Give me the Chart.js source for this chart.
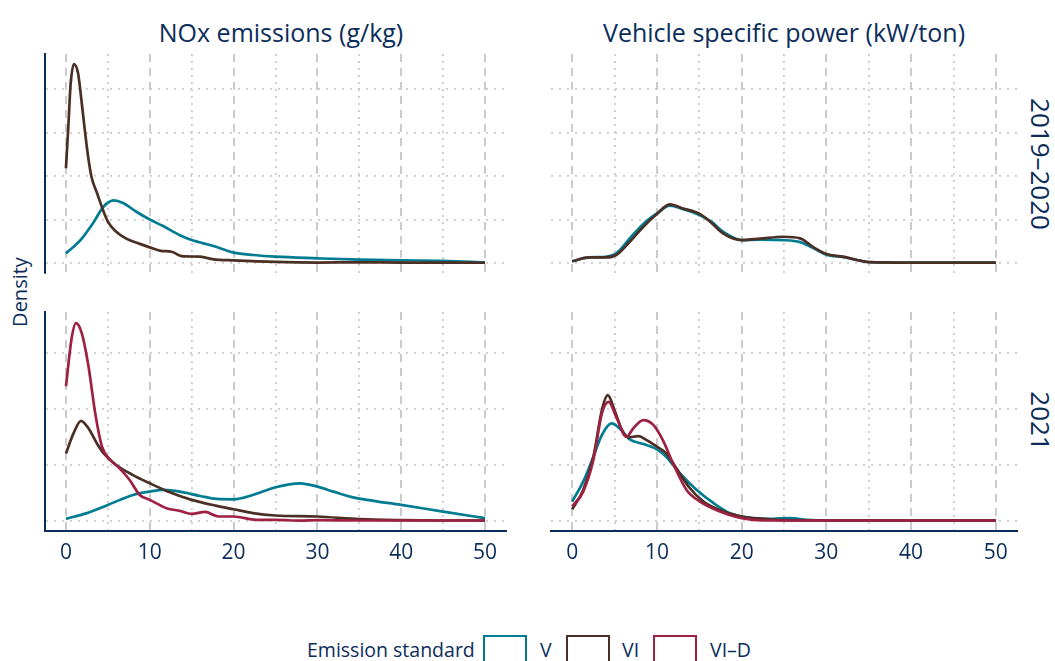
<!DOCTYPE html>
<html>
<head>
<meta charset="utf-8">
<script src="https://cdn.jsdelivr.net/npm/chart.js@4.4.1/dist/chart.umd.min.js"></script>
<style>
  body { margin: 0; width: 1055px; height: 661px; overflow: hidden; position: relative; background: #fff;
         font-family: 'Open Sans', sans-serif; color: #0b2d5b; }
  canvas { position: absolute; }
  .title { position: absolute; top: 32px; font-size: 25px; white-space: nowrap; transform: translate(-50%, -50%); }
  .strip { position: absolute; font-size: 26px; white-space: nowrap; transform: translate(-50%, -50%) rotate(90deg); }
  .ylab { position: absolute; left: 19px; top: 292px; font-size: 20px; white-space: nowrap; transform: translate(-50%, -50%) rotate(-90deg); }
  .legend { position: absolute; top: 637px; font-size: 19.5px; line-height: 26px; white-space: nowrap; }
  .key { position: absolute; top: 635px; width: 40px; height: 40px; border: 2.5px solid; }
</style>
</head>
<body>
<div class="title" style="left:281px">NOx emissions (g/kg)</div>
<div class="title" style="left:784px">Vehicle specific power (kW/ton)</div>
<div class="ylab">Density</div>
<div class="strip" style="left:1041px; top:164px">2019–2020</div>
<div class="strip" style="left:1041px; top:421px">2021</div>

<canvas id="noxTop" width="482" height="240" style="left:35px; top:44px"></canvas>
<canvas id="vspTop" width="486" height="240" style="left:541px; top:44px"></canvas>
<canvas id="noxBot" width="482" height="280" style="left:35px; top:302px"></canvas>
<canvas id="vspBot" width="486" height="280" style="left:541px; top:302px"></canvas>

<div class="legend" style="left:307px">Emission standard</div>
<div class="key" style="left:483px; border-color:#007c92"></div>
<div class="legend" style="left:540px">V</div>
<div class="key" style="left:566px; border-color:#4b2f25"></div>
<div class="legend" style="left:622px">VI</div>
<div class="key" style="left:653px; border-color:#9e2143"></div>
<div class="legend" style="left:710px">VI–D</div>

<script>
// --------------------------------------------------- DATA
const xTicks = [0, 5, 10, 15, 20, 25, 30, 35, 40, 45, 50]
const yTicksTop = [0, 0.05, 0.1, 0.15, 0.2]
const yTicksBot = [0, 0.05, 0.1, 0.15]

// NOx, 2019-2020
const noxTopVx = [0, 1.7, 3.3, 4.5, 5.7, 6.8, 8.4, 10, 11.6, 13.6, 15, 17.6, 20, 22.4, 25, 30, 35, 40, 45, 50]
const noxTopV = [0.011, 0.026, 0.047, 0.065, 0.072, 0.069, 0.059, 0.050, 0.0425, 0.032, 0.0264, 0.0195, 0.012, 0.0092, 0.0073, 0.0054, 0.0038, 0.003, 0.0026, 0.0008]
const noxTopVIx = [0, 0.3, 0.55, 0.95, 1.45, 1.85, 2.25, 2.65, 3.05, 3.65, 5, 6, 7.2, 8.8, 10, 11.3, 12.6, 13.8, 16, 17.6, 20, 25, 30, 35, 40, 45, 50]
const noxTopVI = [0.109, 0.16, 0.205, 0.229, 0.218, 0.187, 0.153, 0.122, 0.099, 0.082, 0.0475, 0.036, 0.028, 0.022, 0.018, 0.014, 0.013, 0.008, 0.0073, 0.0042, 0.003, 0.0012, 0.0005, 0.0008, 0.0005, 0.0005, 0.0003]

// VSP, 2019-2020
const vspTopX = [0, 2, 4, 5.2, 6.8, 8.4, 10, 11.5, 13.1, 15.1, 16.5, 17.8, 20, 22.2, 24.9, 26.9, 28.5, 30, 32, 33.6, 35, 40, 45, 50]
const vspTopV = [0.002, 0.0065, 0.007, 0.011, 0.0284, 0.045, 0.057, 0.066, 0.062, 0.055, 0.047, 0.036, 0.0264, 0.027, 0.0264, 0.024, 0.017, 0.0095, 0.0068, 0.0035, 0.001, 0.0005, 0.0005, 0.0005]
const vspTopVI = [0.002, 0.0065, 0.0065, 0.0092, 0.0245, 0.0418, 0.0563, 0.0674, 0.0628, 0.0563, 0.0456, 0.0341, 0.0264, 0.028, 0.0302, 0.0284, 0.018, 0.0103, 0.0073, 0.0035, 0.001, 0.0005, 0.0005, 0.0005]

// NOx, 2021
const noxBotVx = [0, 2.5, 5, 8, 10, 11.6, 13.6, 16, 18, 20, 22.3, 25, 27.9, 30, 31.9, 33.9, 35.9, 40, 45, 50]
const noxBotV = [0.0018, 0.0069, 0.0143, 0.0232, 0.0262, 0.0277, 0.0262, 0.0223, 0.0196, 0.0193, 0.0232, 0.0301, 0.0336, 0.0307, 0.0262, 0.0217, 0.0188, 0.0143, 0.0083, 0.0024]
const noxBotVIx = [0, 0.9, 1.8, 2.7, 3.7, 4.5, 6, 8, 10, 12, 15, 18, 20, 22.3, 25, 30, 35, 40, 45, 50]
const noxBotVI = [0.0604, 0.0783, 0.0896, 0.0827, 0.0693, 0.0604, 0.05, 0.041, 0.0336, 0.0268, 0.0188, 0.0134, 0.0104, 0.0069, 0.0048, 0.0039, 0.0015, 0.0006, 0.0003, 0.0003]
const noxBotVIDx = [0, 0.7, 1.2, 1.9, 2.7, 3.5, 4.3, 5.3, 6.4, 7.6, 8.8, 10, 12, 13.6, 15, 16.6, 18.2, 20, 22.7, 25, 28, 30, 35, 40, 45, 50]
const noxBotVID = [0.1205, 0.1646, 0.177, 0.1676, 0.1378, 0.096, 0.0664, 0.0545, 0.047, 0.0366, 0.0232, 0.0188, 0.0113, 0.0089, 0.0063, 0.008, 0.0039, 0.0039, 0.0009, 0.0009, 0.0002, 0.0006, 0.0003, 0.0003, 0.0003, 0.0003]

// VSP, 2021
const vspBotVx = [0, 1.3, 2.5, 3.5, 4.65, 5.6, 6.8, 8.4, 10, 11.1, 12.7, 14.7, 16.7, 18.6, 20, 22.6, 25.7, 27.7, 30, 40, 50]
const vspBotV = [0.0173, 0.0351, 0.0574, 0.0768, 0.0872, 0.0827, 0.0729, 0.0688, 0.064, 0.0574, 0.0426, 0.0277, 0.0158, 0.0069, 0.0039, 0.0018, 0.0024, 0.0009, 0.0003, 0.0003, 0.0003]
const vspBotVIx = [0, 1.3, 2.5, 3.5, 4.2, 5, 5.8, 6.6, 7.8, 8.8, 10, 11.1, 12.3, 13.9, 15.5, 17.4, 20, 22.6, 25, 30, 40, 50]
const vspBotVI = [0.0104, 0.0277, 0.0574, 0.099, 0.1125, 0.099, 0.0827, 0.0747, 0.0759, 0.0723, 0.0664, 0.0604, 0.047, 0.0292, 0.0173, 0.0098, 0.0039, 0.0018, 0.0006, 0.0003, 0.0003, 0.0003]
const vspBotVIDx = [0, 1.3, 2.5, 3.5, 4.3, 5.2, 6.4, 7.2, 8.4, 9.6, 10.7, 11.9, 13.5, 15.1, 17, 20, 22.6, 30, 40, 50]
const vspBotVID = [0.0128, 0.0262, 0.0545, 0.096, 0.1065, 0.093, 0.0753, 0.0827, 0.0902, 0.0857, 0.0723, 0.0515, 0.0277, 0.0173, 0.0098, 0.0024, 0.0003, 0.0003, 0.0003, 0.0003]

// --------------------------------------------------- STYLE
const navy = '#0b2d5b'
const gridGrey = '#cbcbcb'
const colors = { V: '#007c92', VI: '#4b2f25', VID: '#9e2143' }

// --------------------------------------------------- FUNCTIONS
function points(xs, ys) {
  return xs.map((x, i) => ({ x: x, y: ys[i] }))
}

function line(label, xs, ys, color, order) {
  return {
    label: label,
    data: points(xs, ys),
    borderColor: color,
    borderWidth: 2.7,
    pointRadius: 0,
    fill: false,
    cubicInterpolationMode: 'monotone',
    order: order
  }
}

function makePanel(id, datasets, opts) {
  return new Chart(document.getElementById(id), {
    type: 'line',
    data: { datasets: datasets },
    options: {
      responsive: false,
      animation: false,
      events: [],
      layout: { padding: opts.padding },
      plugins: { legend: { display: false }, tooltip: { enabled: false } },
      scales: {
        x: {
          type: 'linear',
          min: -2.5,
          max: 52.5,
          afterBuildTicks: (axis) => { axis.ticks = xTicks.map(v => ({ value: v })) },
          grid: {
            color: gridGrey,
            lineWidth: (c) => c.tick && c.tick.value % 10 === 0 ? 2 : 1.8,
            drawTicks: false
          },
          border: {
            display: opts.showX,
            color: navy,
            width: 2,
            dash: (c) => c.tick ? (c.tick.value % 10 === 0 ? [8, 6] : [2, 5]) : []
          },
          ticks: {
            display: opts.showX,
            color: navy,
            font: { family: 'Open Sans', size: 21 },
            padding: 10,
            maxRotation: 0,
            callback: (v) => v % 10 === 0 ? v : ''
          }
        },
        y: {
          type: 'linear',
          min: opts.yMin,
          max: opts.yMax,
          afterBuildTicks: (axis) => { axis.ticks = opts.yTicks.map(v => ({ value: v })) },
          grid: { color: gridGrey, lineWidth: 1.8, drawTicks: false },
          border: {
            display: opts.showY,
            color: navy,
            width: 2,
            dash: (c) => c.tick ? [2, 6] : []
          },
          ticks: { display: false }
        }
      }
    }
  })
}

// --------------------------------------------------- PANELS
makePanel('noxTop', [
  line('V', noxTopVx, noxTopV, colors.V, 2),
  line('VI', noxTopVIx, noxTopVI, colors.VI, 1)
], { padding: { left: 10, top: 10, right: 11, bottom: 11 }, showX: false, showY: true, yMin: -0.0115, yMax: 0.2405, yTicks: yTicksTop })

makePanel('vspTop', [
  line('V', vspTopX, vspTopV, colors.V, 2),
  line('VI', vspTopX, vspTopVI, colors.VI, 1)
], { padding: { left: 10, top: 10, right: 10, bottom: 11 }, showX: false, showY: false, yMin: -0.0115, yMax: 0.2405, yTicks: yTicksTop })

makePanel('noxBot', [
  line('V', noxBotVx, noxBotV, colors.V, 3),
  line('VI', noxBotVIx, noxBotVI, colors.VI, 2),
  line('VI-D', noxBotVIDx, noxBotVID, colors.VID, 1)
], { padding: { left: 10, top: 10, right: 11, bottom: 6 }, showX: true, showY: true, yMin: -0.0089, yMax: 0.187, yTicks: yTicksBot })

makePanel('vspBot', [
  line('V', vspBotVx, vspBotV, colors.V, 3),
  line('VI', vspBotVIx, vspBotVI, colors.VI, 2),
  line('VI-D', vspBotVIDx, vspBotVID, colors.VID, 1)
], { padding: { left: 10, top: 10, right: 10, bottom: 6 }, showX: true, showY: false, yMin: -0.0089, yMax: 0.187, yTicks: yTicksBot })
</script>
</body>
</html>
